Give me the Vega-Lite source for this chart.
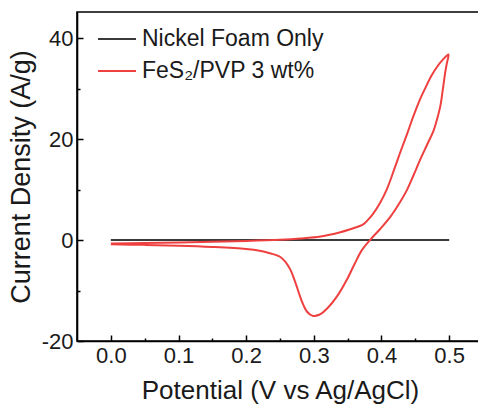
{
  "$schema": "https://vega.github.io/schema/vega-lite/v6.json",
  "autosize": {"type": "none"},
  "padding": {"left": 77, "top": 12, "right": 0, "bottom": 70},
  "width": 406,
  "height": 329,
  "background": "white",
  "config": {
    "view": {"stroke": "#000000", "strokeWidth": 1.6},
    "font": "Liberation Sans"
  },
  "data": {
    "values": [
      {"series": "Nickel Foam Only", "i": 0, "potential": 0.0, "current": 0.0},
      {"series": "Nickel Foam Only", "i": 1, "potential": 0.25, "current": 0.0},
      {"series": "Nickel Foam Only", "i": 2, "potential": 0.5, "current": 0.0},
      {"series": "FeS₂/PVP 3 wt%", "i": 0, "potential": 0.0, "current": -0.7},
      {"series": "FeS₂/PVP 3 wt%", "i": 1, "potential": 0.05, "current": -0.58},
      {"series": "FeS₂/PVP 3 wt%", "i": 2, "potential": 0.1, "current": -0.46},
      {"series": "FeS₂/PVP 3 wt%", "i": 3, "potential": 0.15, "current": -0.33},
      {"series": "FeS₂/PVP 3 wt%", "i": 4, "potential": 0.2, "current": -0.18},
      {"series": "FeS₂/PVP 3 wt%", "i": 5, "potential": 0.25, "current": 0.05},
      {"series": "FeS₂/PVP 3 wt%", "i": 6, "potential": 0.28, "current": 0.3},
      {"series": "FeS₂/PVP 3 wt%", "i": 7, "potential": 0.31, "current": 0.7},
      {"series": "FeS₂/PVP 3 wt%", "i": 8, "potential": 0.339, "current": 1.55},
      {"series": "FeS₂/PVP 3 wt%", "i": 9, "potential": 0.355, "current": 2.2},
      {"series": "FeS₂/PVP 3 wt%", "i": 10, "potential": 0.366, "current": 2.7},
      {"series": "FeS₂/PVP 3 wt%", "i": 11, "potential": 0.373, "current": 3.1},
      {"series": "FeS₂/PVP 3 wt%", "i": 12, "potential": 0.38, "current": 4.0},
      {"series": "FeS₂/PVP 3 wt%", "i": 13, "potential": 0.388, "current": 5.3},
      {"series": "FeS₂/PVP 3 wt%", "i": 14, "potential": 0.398, "current": 7.4},
      {"series": "FeS₂/PVP 3 wt%", "i": 15, "potential": 0.408, "current": 10.1},
      {"series": "FeS₂/PVP 3 wt%", "i": 16, "potential": 0.418, "current": 13.7},
      {"series": "FeS₂/PVP 3 wt%", "i": 17, "potential": 0.428, "current": 17.5},
      {"series": "FeS₂/PVP 3 wt%", "i": 18, "potential": 0.438, "current": 21.1},
      {"series": "FeS₂/PVP 3 wt%", "i": 19, "potential": 0.447, "current": 24.5},
      {"series": "FeS₂/PVP 3 wt%", "i": 20, "potential": 0.456, "current": 27.6},
      {"series": "FeS₂/PVP 3 wt%", "i": 21, "potential": 0.465, "current": 30.2},
      {"series": "FeS₂/PVP 3 wt%", "i": 22, "potential": 0.474, "current": 32.6},
      {"series": "FeS₂/PVP 3 wt%", "i": 23, "potential": 0.483, "current": 34.5},
      {"series": "FeS₂/PVP 3 wt%", "i": 24, "potential": 0.491, "current": 35.8},
      {"series": "FeS₂/PVP 3 wt%", "i": 25, "potential": 0.499, "current": 36.8},
      {"series": "FeS₂/PVP 3 wt%", "i": 26, "potential": 0.4965, "current": 35.0},
      {"series": "FeS₂/PVP 3 wt%", "i": 27, "potential": 0.494, "current": 33.1},
      {"series": "FeS₂/PVP 3 wt%", "i": 28, "potential": 0.4905, "current": 29.7},
      {"series": "FeS₂/PVP 3 wt%", "i": 29, "potential": 0.487, "current": 26.6},
      {"series": "FeS₂/PVP 3 wt%", "i": 30, "potential": 0.482, "current": 23.9},
      {"series": "FeS₂/PVP 3 wt%", "i": 31, "potential": 0.477, "current": 21.7},
      {"series": "FeS₂/PVP 3 wt%", "i": 32, "potential": 0.467, "current": 18.8},
      {"series": "FeS₂/PVP 3 wt%", "i": 33, "potential": 0.457, "current": 15.9},
      {"series": "FeS₂/PVP 3 wt%", "i": 34, "potential": 0.4475, "current": 12.9},
      {"series": "FeS₂/PVP 3 wt%", "i": 35, "potential": 0.4375, "current": 9.9},
      {"series": "FeS₂/PVP 3 wt%", "i": 36, "potential": 0.425, "current": 7.0},
      {"series": "FeS₂/PVP 3 wt%", "i": 37, "potential": 0.413, "current": 4.6},
      {"series": "FeS₂/PVP 3 wt%", "i": 38, "potential": 0.398, "current": 2.2},
      {"series": "FeS₂/PVP 3 wt%", "i": 39, "potential": 0.383, "current": 0.0},
      {"series": "FeS₂/PVP 3 wt%", "i": 40, "potential": 0.371, "current": -2.0},
      {"series": "FeS₂/PVP 3 wt%", "i": 41, "potential": 0.36, "current": -4.8},
      {"series": "FeS₂/PVP 3 wt%", "i": 42, "potential": 0.349, "current": -7.8},
      {"series": "FeS₂/PVP 3 wt%", "i": 43, "potential": 0.336, "current": -10.8},
      {"series": "FeS₂/PVP 3 wt%", "i": 44, "potential": 0.32, "current": -13.5},
      {"series": "FeS₂/PVP 3 wt%", "i": 45, "potential": 0.308, "current": -14.8},
      {"series": "FeS₂/PVP 3 wt%", "i": 46, "potential": 0.298, "current": -15.0},
      {"series": "FeS₂/PVP 3 wt%", "i": 47, "potential": 0.29, "current": -14.2},
      {"series": "FeS₂/PVP 3 wt%", "i": 48, "potential": 0.285, "current": -13.0},
      {"series": "FeS₂/PVP 3 wt%", "i": 49, "potential": 0.28, "current": -11.3},
      {"series": "FeS₂/PVP 3 wt%", "i": 50, "potential": 0.275, "current": -9.3},
      {"series": "FeS₂/PVP 3 wt%", "i": 51, "potential": 0.27, "current": -7.4},
      {"series": "FeS₂/PVP 3 wt%", "i": 52, "potential": 0.2655, "current": -5.9},
      {"series": "FeS₂/PVP 3 wt%", "i": 53, "potential": 0.258, "current": -4.3},
      {"series": "FeS₂/PVP 3 wt%", "i": 54, "potential": 0.25, "current": -3.3},
      {"series": "FeS₂/PVP 3 wt%", "i": 55, "potential": 0.235, "current": -2.6},
      {"series": "FeS₂/PVP 3 wt%", "i": 56, "potential": 0.22, "current": -2.1},
      {"series": "FeS₂/PVP 3 wt%", "i": 57, "potential": 0.2, "current": -1.75},
      {"series": "FeS₂/PVP 3 wt%", "i": 58, "potential": 0.15, "current": -1.35},
      {"series": "FeS₂/PVP 3 wt%", "i": 59, "potential": 0.1, "current": -1.1},
      {"series": "FeS₂/PVP 3 wt%", "i": 60, "potential": 0.05, "current": -0.95},
      {"series": "FeS₂/PVP 3 wt%", "i": 61, "potential": 0.0, "current": -0.85}
    ]
  },
  "mark": {"type": "line", "strokeWidth": 2, "clip": true, "interpolate": "catmull-rom"},
  "encoding": {
    "x": {
      "field": "potential", "type": "quantitative",
      "scale": {"domain": [-0.05, 0.55], "nice": false, "zero": false},
      "axis": {
        "title": "Potential (V vs Ag/AgCl)",
        "values": [0, 0.05, 0.1, 0.15, 0.2, 0.25, 0.3, 0.35, 0.4, 0.45, 0.5],
        "labelExpr": "abs(round(datum.value*10) - datum.value*10) < 0.01 ? format(datum.value, '.1f') : ''",
        "tickSize": {"condition": {"test": "abs(round(datum.value*10) - datum.value*10) < 0.01", "value": -6}, "value": -3},
        "tickColor": "#000000", "tickWidth": 1.5,
        "domainColor": "#000000", "domainWidth": 1.6,
        "grid": false,
        "labelFont": "Liberation Sans", "labelFontSize": 22, "labelColor": "#1a1a1a",
        "labelPadding": 10, "labelFlush": false, "labelOverlap": false,
        "titleFont": "Liberation Sans", "titleFontSize": 26, "titleFontWeight": "normal", "titleColor": "#1a1a1a",
        "titlePadding": 8
      }
    },
    "y": {
      "field": "current", "type": "quantitative",
      "scale": {"domain": [-20, 45.2], "nice": false, "zero": false},
      "axis": {
        "title": "Current Density (A/g)",
        "values": [-20, -10, 0, 10, 20, 30, 40],
        "labelExpr": "datum.value % 20 == 0 ? '' + datum.value : ''",
        "tickSize": {"condition": {"test": "datum.value % 20 == 0", "value": -6}, "value": -3},
        "tickColor": "#000000", "tickWidth": 1.5,
        "domainColor": "#000000", "domainWidth": 1.6,
        "grid": false,
        "labelFont": "Liberation Sans", "labelFontSize": 22, "labelColor": "#1a1a1a",
        "labelPadding": 10, "labelFlush": false, "labelOverlap": false,
        "titleFont": "Liberation Sans", "titleFontSize": 27, "titleFontWeight": "normal", "titleColor": "#1a1a1a",
        "titlePadding": 6
      }
    },
    "color": {
      "field": "series", "type": "nominal",
      "scale": {"domain": ["Nickel Foam Only", "FeS₂/PVP 3 wt%"], "range": ["#3a3a3a", "#ef4040"]},
      "legend": {
        "title": null, "orient": "none", "legendX": 20, "legendY": 7,
        "symbolType": "stroke", "symbolSize": 1444, "symbolStrokeWidth": 2,
        "labelFont": "Liberation Sans", "labelFontSize": 23, "labelColor": "#1a1a1a",
        "labelOffset": 5, "rowPadding": -9, "labelLimit": 400
      }
    },
    "detail": {"field": "series"},
    "order": {"field": "i", "type": "quantitative"}
  }
}
